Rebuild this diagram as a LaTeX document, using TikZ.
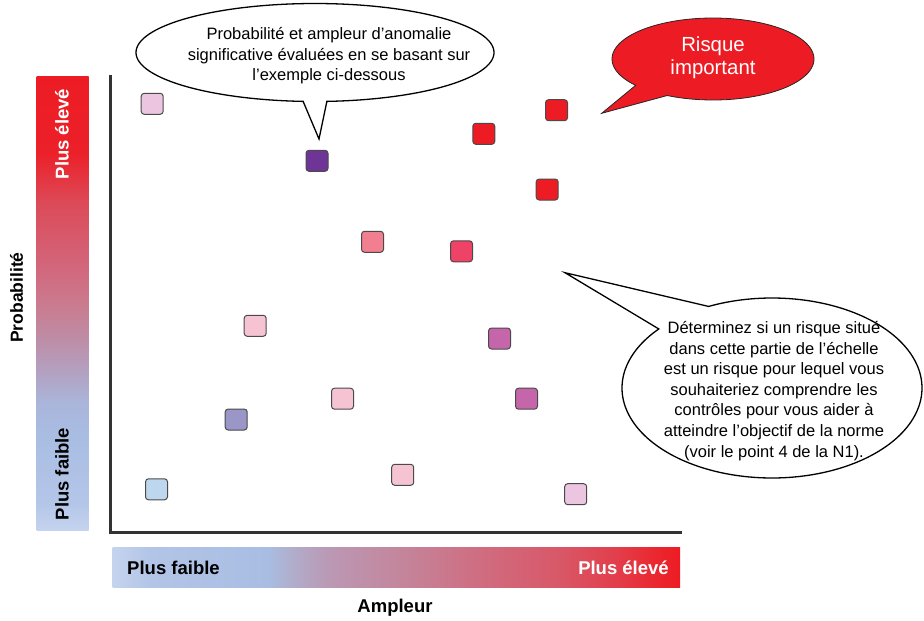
\documentclass[tikz,border=0pt]{standalone}
\usepackage{fontspec}
\setmainfont{Liberation Sans}

% palette of the risk markers
\definecolor{palemauve}{HTML}{ECC6E0}
\definecolor{deeppurple}{HTML}{6F3596}
\definecolor{riskred}{HTML}{ED1C24}
\definecolor{salmon}{HTML}{F27F8F}
\definecolor{rosered}{HTML}{EE4267}
\definecolor{palepink}{HTML}{F6C3D3}
\definecolor{orchid}{HTML}{C466A9}
\definecolor{lavender}{HTML}{9A96C8}
\definecolor{iceblue}{HTML}{BDD8EE}
\definecolor{sqedge}{HTML}{4A4A4A}
\definecolor{axisgray}{HTML}{333333}

% gradient stops for the two scale bars
\definecolor{gA}{HTML}{C5D3EE}
\definecolor{gB}{HTML}{B2C5E7}
\definecolor{gC}{HTML}{A9BDE3}
\definecolor{gD}{HTML}{B0AECC}
\definecolor{gE}{HTML}{BB98B4}
\definecolor{gF}{HTML}{C4849A}
\definecolor{gG}{HTML}{D06C80}
\definecolor{gH}{HTML}{D85868}
\definecolor{gI}{HTML}{E23E4B}
\definecolor{gJ}{HTML}{EA2830}
\definecolor{gK}{HTML}{ED1C24}
\definecolor{vB}{HTML}{B4C6E8}
\definecolor{vD}{HTML}{AAB5DA}
\definecolor{vE}{HTML}{B4A0C0}
\definecolor{vF}{HTML}{BE8CA5}
\definecolor{vG}{HTML}{CB7A8E}
\definecolor{vH}{HTML}{D2687E}
\definecolor{vI}{HTML}{DC4A58}
\definecolor{vJ}{HTML}{EC2029}

\pgfdeclarehorizontalshading{ampleurshade}{100bp}{%
  color(0bp)=(gA); color(25bp)=(gA); color(28.3bp)=(gB); color(38.7bp)=(gC);
  color(40.7bp)=(gD); color(44.1bp)=(gE); color(50.8bp)=(gF); color(57.6bp)=(gG);
  color(64.3bp)=(gH); color(69.4bp)=(gI); color(72.7bp)=(gJ); color(75bp)=(gK);
  color(100bp)=(gK)}
\pgfdeclareverticalshading{probashade}{100bp}{%
  color(0bp)=(gA); color(25bp)=(gA); color(28.05bp)=(vB); color(35.3bp)=(gC);
  color(39.1bp)=(vD); color(42.7bp)=(vE); color(46.3bp)=(vF); color(50.1bp)=(vG);
  color(53.7bp)=(vH); color(61.1bp)=(vI); color(66.6bp)=(vJ); color(75bp)=(gK);
  color(100bp)=(gK)}

\tikzset{
  riskbox/.style={draw=sqedge, line width=1pt, rounded corners=3pt,
    minimum width=22pt, minimum height=21pt, inner sep=0pt},
  bubbleline/.style={draw=black, line width=1.3pt, line join=miter},
  bubtext/.style={align=center, inner sep=0pt,
    font=\fontsize{16.5}{20.6}\selectfont},
  scalelabel/.style={inner sep=0pt, font=\fontsize{18.5}{22}\selectfont\bfseries},
}

\begin{document}
\begin{tikzpicture}[x=1pt,y=-1pt]
\useasboundingbox (0,0) rectangle (924,621);

% scale bars
\path[shading=probashade] (36.7,76.7) rectangle (88.7,530.7);
\path[shading=ampleurshade] (112.7,547.7) rectangle (680,587.3);

% axes
\coordinate (ytop) at (110.5,75);
\coordinate (origin) at (110.5,532.5);
\coordinate (xend) at (681.7,532.5);
\draw[axisgray, line width=2.3pt, line cap=butt, line join=miter]
  (ytop) -- (origin) -- (xend);

% axis and bar labels
\node[scalelabel, rotate=90, text=white] (yhigh) at (62,134) {Plus élevé};
\node[scalelabel, rotate=90] (ylow) at (62,474) {Plus faible};
\node[scalelabel, rotate=90, font=\fontsize{17.5}{21}\selectfont\bfseries] (ylabel) at (16.5,297.5) {Probabilité};
\node[scalelabel] (xlow) at (173.5,568) {Plus faible};
\node[scalelabel, text=white] (xhigh) at (623.5,568) {Plus élevé};
\node[scalelabel] (xlabel) at (395,608) {Ampleur};

% risk markers
\node[riskbox, fill=palemauve] (q1) at (152.2,103.8) {};
\node[riskbox, fill=deeppurple] (q2) at (317,160.8) {};
\node[riskbox, fill=riskred] (q3) at (483.8,133.8) {};
\node[riskbox, fill=riskred] (q4) at (556.5,110.2) {};
\node[riskbox, fill=riskred] (q5) at (547.2,189.5) {};
\node[riskbox, fill=salmon] (q6) at (372.5,241.8) {};
\node[riskbox, fill=rosered] (q7) at (461.5,251.3) {};
\node[riskbox, fill=palepink] (q8) at (255.2,325.8) {};
\node[riskbox, fill=orchid] (q9) at (499.5,338.5) {};
\node[riskbox, fill=palepink] (q10) at (342.5,398.7) {};
\node[riskbox, fill=orchid] (q11) at (526.5,398.7) {};
\node[riskbox, fill=lavender] (q12) at (236.2,419.5) {};
\node[riskbox, fill=iceblue] (q13) at (156.5,489.3) {};
\node[riskbox, fill=palepink] (q14) at (402.7,474.8) {};
\node[riskbox, fill=palemauve] (q15) at (575.7,494.2) {};

% callout: how the markers were assessed
\coordinate (tipA) at (319,139);
\draw[bubbleline, fill=white]
  plot[domain=93.8:446.2, samples=160, variable=\t] ({315+179*cos(\t)},{52.5+49*sin(\t)})
  -- (tipA) -- cycle;
\node[bubtext] (noteA) at (329,56)
  {Probabilité et ampleur d’anomalie\\significative évaluées en se basant sur\\l’exemple ci-dessous};

% callout: high-risk corner
\coordinate (tipB) at (601.7,113.3);
\draw[draw=black!85, line width=0.8pt, fill=riskred, line join=miter]
  plot[domain=140:477, samples=140, variable=\t] ({713+101*cos(\t)},{59+41*sin(\t)})
  -- (tipB) -- cycle;
\node[align=center, inner sep=0pt, text=white, font=\fontsize{20.4}{23}\selectfont]
  (noteB) at (713,58.2) {Risque\\important};

% callout: middle band of the scale
\coordinate (tipC) at (565,272.7);
\draw[bubbleline, fill=white]
  plot[domain=245:581, samples=180, variable=\t] ({772+150*cos(\t)},{388+90*sin(\t)})
  -- (tipC) -- cycle;
\node[bubtext] (noteC) at (774,391)
  {Déterminez si un risque situé\\dans cette partie de l’échelle\\est un risque pour lequel vous\\souhaiteriez comprendre les\\contrôles pour vous aider à\\atteindre l’objectif de la norme\\(voir le point 4 de la N1).};
\end{tikzpicture}
\end{document}
